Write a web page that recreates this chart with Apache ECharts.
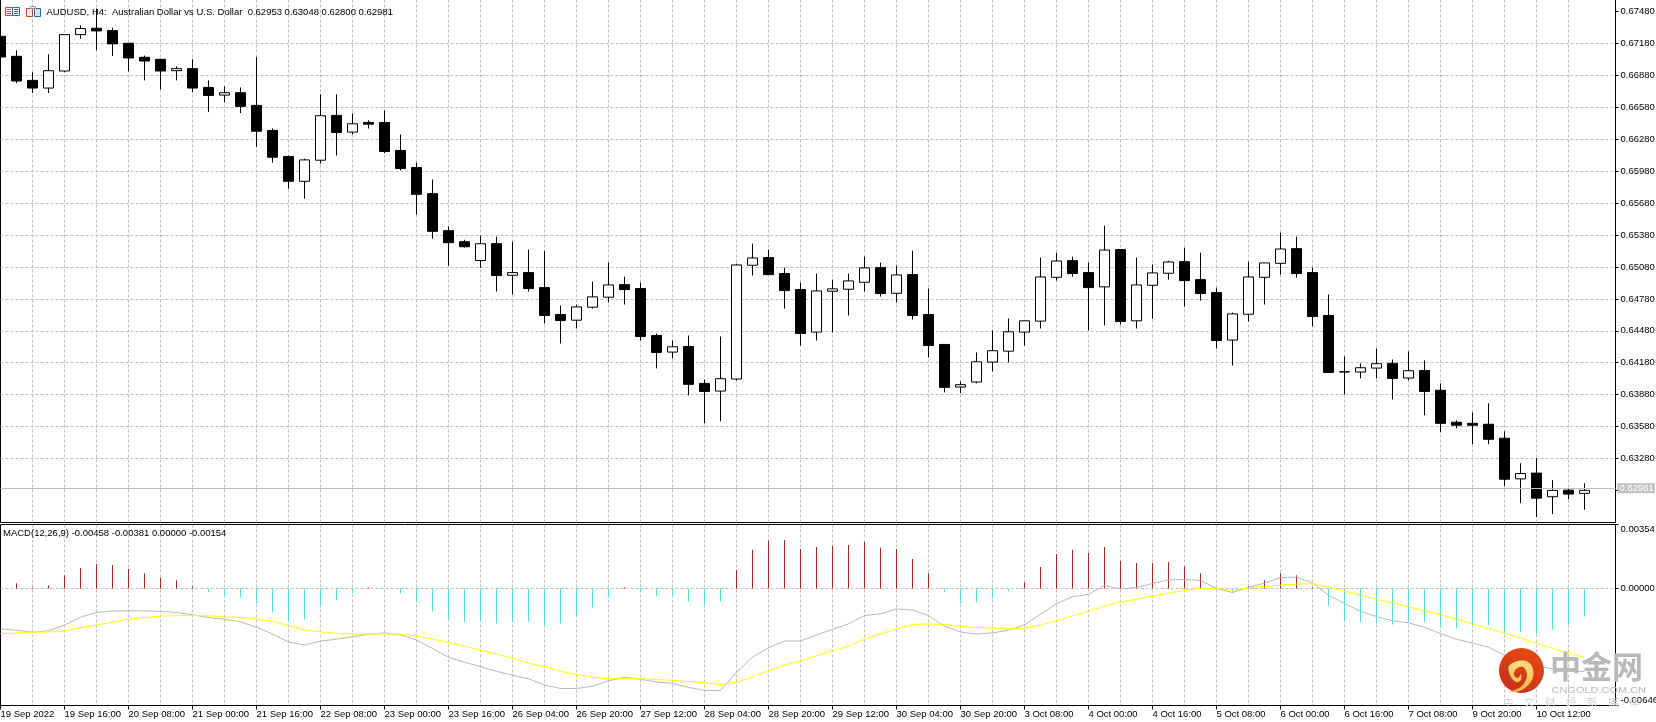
<!DOCTYPE html>
<html>
<head>
<meta charset="utf-8">
<style>html,body{margin:0;padding:0;background:#fff}#c{width:1656px;height:722px}</style>
<script src="https://cdn.jsdelivr.net/npm/echarts@6/dist/echarts.min.js"></script>
</head>
<body>
<div id="c"></div>
<script>
const timeLabels = ['19 Sep 2022','19 Sep 16:00','20 Sep 08:00','21 Sep 00:00','21 Sep 16:00','22 Sep 08:00','23 Sep 00:00','23 Sep 16:00','26 Sep 04:00','26 Sep 20:00','27 Sep 12:00','28 Sep 04:00','28 Sep 20:00','29 Sep 12:00','30 Sep 04:00','30 Sep 20:00','3 Oct 08:00','4 Oct 00:00','4 Oct 16:00','5 Oct 08:00','6 Oct 00:00','6 Oct 16:00','7 Oct 08:00','9 Oct 20:00','10 Oct 12:00'];
const priceLabels = [0.6748,0.6718,0.6688,0.6658,0.6628,0.6598,0.6568,0.6538,0.6508,0.6478,0.6448,0.6418,0.6388,0.6358,0.6328];
const priceGridExtra = [0.6298];
const macdLabels = [0.00354,0,-0.00646];
const lastClose = 0.62981;

const opens = [.67248,.67059,.66833,.66761,.66921,.67263,.67323,.67301,.67182,.67050,.67031,.66924,.66943,.66767,.66695,.66717,.66598,.66363,.66118,.65885,.66083,.66504,.66347,.66438,.66438,.66174,.66014,.65769,.65421,.65317,.65141,.65299,.65002,.65027,.64886,.64633,.64580,.64702,.64796,.64914,.64877,.64436,.64280,.64333,.63986,.63914,.64027,.65096,.65168,.65018,.64868,.64468,.64852,.64871,.64936,.65074,.64833,.65008,.64633,.64352,.63952,.63999,.64186,.64289,.64468,.64571,.64983,.65139,.65027,.64893,.65243,.64574,.64908,.65021,.65130,.64961,.64839,.64393,.64636,.64983,.65114,.65252,.65027,.64624,.64096,.64093,.64130,.64174,.64036,.64108,.63921,.63621,.63611,.63602,.63471,.63089,.63143,.62921,.62983,.62953];
const closes = [.67053,.66827,.66761,.66924,.67263,.67320,.67298,.67176,.67044,.67015,.66921,.66943,.66761,.66692,.66717,.66589,.66356,.66111,.65885,.66086,.66501,.66344,.66425,.66422,.66165,.66005,.65763,.65415,.65308,.65270,.65298,.64999,.65027,.64877,.64624,.64577,.64705,.64799,.64911,.64868,.64427,.64277,.64330,.63977,.63911,.64030,.65099,.65164,.65008,.64858,.64455,.64855,.64874,.64949,.65071,.64830,.65005,.64624,.64343,.63949,.63974,.64189,.64293,.64471,.64574,.64986,.65136,.65018,.64886,.65239,.64568,.64911,.65024,.65127,.64952,.64830,.64389,.64639,.64986,.65118,.65249,.65018,.64614,.64089,.64093,.64133,.64171,.64033,.64105,.63911,.63611,.63593,.63593,.63461,.63086,.63139,.62908,.62980,.62946,.62981];
const highs = [.67248,.67116,.66909,.67078,.67263,.67351,.67508,.67329,.67182,.67066,.67037,.66965,.67031,.66833,.66777,.66767,.67050,.66381,.66127,.66099,.66702,.66702,.66523,.66457,.66551,.66325,.66061,.65901,.65459,.65336,.65374,.65364,.65318,.65243,.65233,.64718,.64727,.64943,.65121,.64989,.64933,.64455,.64389,.64436,.64024,.64427,.65111,.65299,.65243,.65074,.64933,.65018,.64961,.65018,.65177,.65121,.65093,.65233,.64877,.64352,.64005,.64277,.64483,.64596,.64574,.65168,.65214,.65177,.65121,.65468,.65243,.65168,.65102,.65139,.65261,.65214,.64886,.64652,.65130,.65118,.65402,.65364,.65074,.64821,.64239,.64174,.64314,.64211,.64286,.64202,.63986,.63639,.63714,.63799,.63536,.63236,.63283,.63077,.63002,.63048];
const lows = [.67053,.66808,.66714,.66714,.66909,.67223,.67116,.67063,.66918,.66833,.66749,.66833,.66720,.66535,.66626,.66526,.66206,.66061,.65816,.65722,.66052,.66127,.66325,.66381,.66149,.65986,.65572,.65345,.65091,.65261,.65072,.64849,.64821,.64849,.64549,.64361,.64502,.64689,.64746,.64727,.64389,.64127,.64221,.63874,.63611,.63630,.64014,.64999,.65008,.64689,.64343,.64389,.64464,.64624,.64849,.64802,.64746,.64586,.64230,.63902,.63893,.63986,.64099,.64183,.64343,.64502,.64952,.64989,.64483,.64530,.64539,.64502,.64593,.64961,.64708,.64764,.64314,.64155,.64568,.64727,.65008,.64980,.64521,.64089,.63883,.64033,.64033,.63836,.64014,.63686,.63527,.63564,.63414,.63414,.63021,.62861,.62730,.62758,.62899,.62800];

const macdHist = [0,.00030,.00006,.00019,.00074,.00113,.00136,.00130,.00108,.00085,.00058,.00046,.00011,-.00020,-.00043,-.00048,-.00082,-.00132,-.00182,-.00171,-.00100,-.00065,-.00026,.00007,0,-.00026,-.00071,-.00126,-.00171,-.00188,-.00182,-.00193,-.00188,-.00182,-.00210,-.00193,-.00154,-.00104,-.00048,.00007,-.00020,-.00043,-.00043,-.00071,-.00087,-.00071,.00102,.00214,.00264,.00269,.00219,.00230,.00236,.00241,.00258,.00225,.00219,.00163,.00085,-.00020,-.00082,-.00076,-.00054,-.00015,.00035,.00119,.00191,.00214,.00197,.00230,.00152,.00141,.00141,.00147,.00124,.00085,0,-.00026,.00013,.00046,.00085,.00074,.00007,-.00098,-.00176,-.00188,-.00193,-.00199,-.00182,-.00188,-.00215,-.00221,-.00210,-.00204,-.00249,-.00238,-.00249,-.00227,-.00199,-.00154];
const macdMain = [-.00223,-.00230,-.00241,-.00234,-.00202,-.00158,-.00132,-.00124,-.00123,-.00123,-.00126,-.00132,-.00145,-.00160,-.00169,-.00184,-.00214,-.00251,-.00295,-.00312,-.00290,-.00280,-.00266,-.00253,-.00245,-.00256,-.00284,-.00331,-.00379,-.00407,-.00431,-.00457,-.00479,-.00498,-.00533,-.00552,-.00552,-.00540,-.00509,-.00490,-.00501,-.00516,-.00524,-.00546,-.00563,-.00563,-.00464,-.00379,-.00327,-.00290,-.00290,-.00256,-.00225,-.00195,-.00149,-.00139,-.00113,-.00119,-.00149,-.00208,-.00240,-.00251,-.00245,-.00230,-.00201,-.00141,-.00084,-.00045,-.00032,.00017,-.00002,.00006,.00028,.00048,.00050,.00045,0,-.00022,.00007,.00030,.00061,.00063,.00032,-.00037,-.00082,-.00126,-.00154,-.00178,-.00189,-.00214,-.00249,-.00280,-.00301,-.00323,-.00370,-.00392,-.00427,-.00444,-.00455,-.00458];
const macdSignal = [-.00249,-.00245,-.00241,-.00240,-.00234,-.00217,-.00201,-.00186,-.00169,-.00160,-.00152,-.00150,-.00149,-.00150,-.00156,-.00160,-.00169,-.00182,-.00204,-.00228,-.00240,-.00247,-.00251,-.00251,-.00251,-.00251,-.00262,-.00279,-.00297,-.00319,-.00340,-.00362,-.00384,-.00412,-.00431,-.00457,-.00474,-.00490,-.00498,-.00498,-.00498,-.00503,-.00507,-.00513,-.00520,-.00529,-.00518,-.00488,-.00455,-.00423,-.00401,-.00371,-.00344,-.00318,-.00279,-.00251,-.00223,-.00199,-.00195,-.00199,-.00208,-.00214,-.00219,-.00223,-.00219,-.00202,-.00178,-.00152,-.00126,-.00097,-.00074,-.00059,-.00043,-.00026,-.00011,.00002,0,-.00009,.00004,.00011,.00019,.00024,.00028,.00009,-.00015,-.00037,-.00059,-.00080,-.00100,-.00123,-.00143,-.00169,-.00195,-.00221,-.00245,-.00273,-.00303,-.00331,-.00357,-.00381];

const idx = opens.map((_, i) => i);
const candleData = idx.map(i => [i, opens[i], closes[i], lows[i], highs[i]]);
const histData = idx.map(i => [i, macdHist[i]]);
const mainData = idx.map(i => [i, macdMain[i]]);
const signalData = idx.map(i => [i, macdSignal[i]]);
const gridTicks = Array.from({length: 51}, (_, i) => i * 2);
const labelTicks = timeLabels.map((_, i) => i * 4);

const FONT = '"Liberation Sans", Arial, sans-serif';
const GRIDC = '#c0c0c0';
const DASH = {color: GRIDC, width: 1, type: [3, 2]};
const XMAX = 1615 / 16;

const chart = echarts.init(document.getElementById('c'), null, {renderer: 'canvas'});
chart.setOption({
  animation: false,
  backgroundColor: '#fff',
  title: [
    {text: 'AUDUSD, H4:  Australian Dollar vs U.S. Dollar  0.62953 0.63048 0.62800 0.62981', left: 46.5, top: 7, padding: 0,
     textStyle: {fontFamily: FONT, fontSize: 9.5, fontWeight: 'normal', color: '#000', lineHeight: 10}},
    {text: 'MACD(12,26,9) -0.00458 -0.00381 0.00000 -0.00154', left: 3, top: 528, padding: 0,
     textStyle: {fontFamily: FONT, fontSize: 9.5, fontWeight: 'normal', color: '#000', lineHeight: 10}}
  ],
  grid: [
    {left: 0.5, top: -0.5, width: 1615, height: 523, show: true, borderColor: '#000', borderWidth: 1, backgroundColor: 'transparent', containLabel: false, outerBoundsMode: 'none'},
    {left: 0.5, top: 524.5, width: 1615, height: 181, show: true, borderColor: '#000', borderWidth: 1, backgroundColor: 'transparent', containLabel: false, outerBoundsMode: 'none'}
  ],
  xAxis: [
    {type: 'value', gridIndex: 0, min: 0, max: XMAX, position: 'bottom',
     axisLine: {show: false, onZero: false}, axisLabel: {show: false},
     axisTick: {show: false, customValues: gridTicks},
     splitLine: {show: true, lineStyle: DASH, showMinLine: false, showMaxLine: false}},
    {type: 'value', gridIndex: 1, min: 0, max: XMAX, position: 'top',
     axisLine: {show: false, onZero: false}, axisLabel: {show: false},
     axisTick: {show: false, customValues: gridTicks},
     splitLine: {show: true, lineStyle: DASH, showMinLine: false, showMaxLine: false}},
    {type: 'value', gridIndex: 1, min: 0, max: XMAX, position: 'bottom',
     axisLine: {show: true, onZero: false, lineStyle: {color: '#000', width: 1}},
     axisTick: {show: true, length: 4, customValues: labelTicks, lineStyle: {color: '#000', width: 1}},
     axisLabel: {show: true, customValues: labelTicks, align: 'left', margin: 4, color: '#000',
       fontFamily: FONT, fontSize: 9.5, hideOverlap: false,
       formatter: v => timeLabels[Math.round(v / 4)]},
     splitLine: {show: false}}
  ],
  yAxis: [
    {type: 'value', gridIndex: 0, position: 'right', min: 0.62679, max: 0.67593,
     axisLine: {show: true, onZero: false, lineStyle: {color: '#000', width: 1}},
     axisTick: {show: true, length: 3, customValues: priceLabels.concat(priceGridExtra), lineStyle: {color: '#000'}},
     axisLabel: {show: true, customValues: priceLabels, margin: 5, color: '#000', fontFamily: FONT, fontSize: 9.5,
       hideOverlap: false, formatter: v => v.toFixed(5)},
     splitLine: {show: true, lineStyle: DASH, showMinLine: false, showMaxLine: false}},
    {type: 'value', gridIndex: 1, position: 'right', min: -0.00646, max: 0.00354,
     axisLine: {show: true, onZero: false, lineStyle: {color: '#000', width: 1}},
     axisTick: {show: true, length: 3, customValues: macdLabels, lineStyle: {color: '#000'}},
     axisLabel: {show: true, customValues: macdLabels, margin: 5, color: '#000', fontFamily: FONT, fontSize: 9.5,
       hideOverlap: false, verticalAlignMinLabel: 'top', verticalAlignMaxLabel: 'bottom',
       formatter: v => v.toFixed(5)},
     splitLine: {show: true, lineStyle: DASH, showMinLine: false, showMaxLine: false}}
  ],
  series: [
    {type: 'candlestick', name: 'AUDUSD', xAxisIndex: 0, yAxisIndex: 0, data: candleData,
     encode: {x: 0, y: [1, 2, 3, 4]}, barWidth: 10, clip: true,
     itemStyle: {color: '#fff', color0: '#000', borderColor: '#000', borderColor0: '#000', borderColorDoji: '#000', borderWidth: 1},
     markLine: {silent: true, symbol: 'none', animation: false,
       lineStyle: {color: GRIDC, type: 'solid', width: 1},
       label: {show: true, position: 'end', distance: 2, formatter: () => lastClose.toFixed(5),
         color: '#fff', backgroundColor: GRIDC, padding: [1, 1, 0, 2], fontFamily: FONT, fontSize: 9.5, lineHeight: 9},
       data: [{yAxis: lastClose}]}},
    {type: 'bar', name: 'Histogram', xAxisIndex: 1, yAxisIndex: 1, data: histData, barWidth: 1, z: 2,
     itemStyle: {color: p => p.value[1] >= 0 ? '#ff0000' : '#00ffff'}},
    {type: 'line', name: 'MACD', xAxisIndex: 1, yAxisIndex: 1, data: mainData, showSymbol: false, symbol: 'none', z: 3,
     lineStyle: {color: '#b8b8b8', width: 1}},
    {type: 'line', name: 'Signal', xAxisIndex: 1, yAxisIndex: 1, data: signalData, showSymbol: false, symbol: 'none', z: 4,
     lineStyle: {color: '#ffff00', width: 1}}
  ],
  graphic: [
    {type: 'rect', z: 20, shape: {x: 5.5, y: 7.5, width: 7, height: 8}, style: {fill: '#fff', stroke: '#e03c32', lineWidth: 1}},
    {type: 'rect', z: 20, shape: {x: 12.5, y: 7.5, width: 7, height: 8}, style: {fill: '#fff', stroke: '#1c6fb8', lineWidth: 1}},
    {type: 'rect', z: 21, shape: {x: 7, y: 9, width: 4, height: 1}, style: {fill: '#e03c32'}},
    {type: 'rect', z: 21, shape: {x: 7, y: 11, width: 4, height: 1}, style: {fill: '#e03c32'}},
    {type: 'rect', z: 21, shape: {x: 7, y: 13, width: 4, height: 1}, style: {fill: '#e03c32'}},
    {type: 'rect', z: 21, shape: {x: 14, y: 9, width: 4, height: 1}, style: {fill: '#1c6fb8'}},
    {type: 'rect', z: 21, shape: {x: 14, y: 11, width: 4, height: 1}, style: {fill: '#1c6fb8'}},
    {type: 'rect', z: 21, shape: {x: 14, y: 13, width: 4, height: 1}, style: {fill: '#1c6fb8'}},
    {type: 'rect', z: 20, shape: {x: 26.5, y: 8.5, width: 6, height: 8}, style: {fill: '#fbe3df', stroke: '#e03c32', lineWidth: 1}},
    {type: 'rect', z: 20, shape: {x: 34.5, y: 8.5, width: 6, height: 8}, style: {fill: '#cfe4f6', stroke: '#1c6fb8', lineWidth: 1}},
    {type: 'rect', z: 21, shape: {x: 30.5, y: 6.5, width: 5, height: 2}, style: {fill: '#fff', stroke: '#9a9a9a', lineWidth: 1}},
    {type: 'circle', z: 30, shape: {cx: 1521.5, cy: 670.5, r: 22.5},
     style: {fill: new echarts.graphic.LinearGradient(0.2, 1, 0.8, 0, [{offset: 0, color: '#c22d1f'}, {offset: 1, color: '#ea4c10'}])}},
    {type: 'polygon', z: 31, shape: {smooth: 0.35, points: [[1510,675],[1509,666],[1518,661],[1528,662],[1533,669],[1532,680],[1522,690],[1510,692],[1522,686],[1527,675],[1523,667],[1516,669],[1514,675],[1518,678],[1521,674],[1521,680],[1516,682]]},
     style: {fill: new echarts.graphic.LinearGradient(0, 0, 0, 1, [{offset: 0, color: '#fbdc8c'}, {offset: 1, color: '#f6b93a'}])}},
    {type: 'text', z: 30, x: 1550, y: 651, style: {text: '中金网', fill: '#b8b8b8', font: 'bold 31px "Noto Sans CJK SC"', textAlign: 'left'}},
    {type: 'text', z: 30, x: 1551.5, y: 686, scaleX: 1.22, style: {text: 'CNGOLD.COM.CN', fill: '#b8b8b8', font: '9px "Liberation Sans"', textAlign: 'left'}},
    {type: 'text', z: 30, x: 1503, y: 697, style: {text: '中\u2003文\u2003财\u2003经\u2003新\u2003媒\u2003体', fill: '#d4d4d4', font: '10.5px "Noto Sans CJK SC"', textAlign: 'left'}}
  ]
});
</script>
</body>
</html>
